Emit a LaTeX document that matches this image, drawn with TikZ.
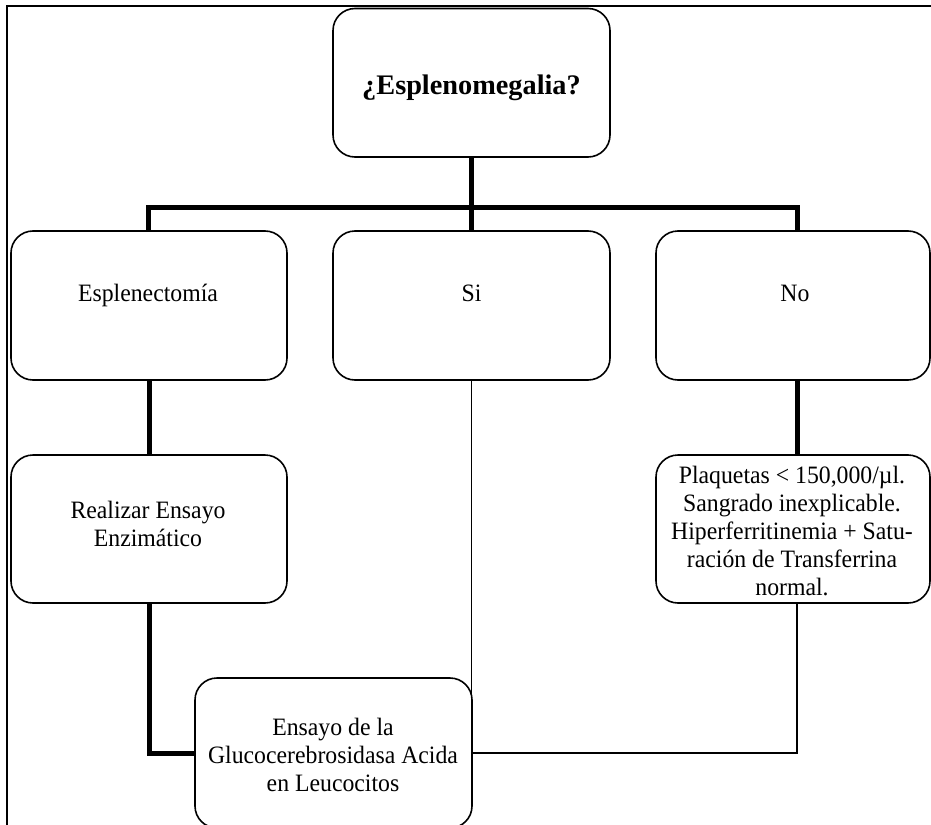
\documentclass[tikz,border=0pt]{standalone}
\usepackage{fontspec}
\setmainfont{Liberation Serif}
\newfontfamily\bodyfont[FakeStretch=0.95]{Liberation Serif}
\usetikzlibrary{calc}
\begin{document}
\begin{tikzpicture}[x=1pt,y=-1pt,
  box/.style={draw, line width=1.6pt, rounded corners=22pt, inner sep=0pt},
  txt/.style={font=\bodyfont\fontsize{25}{28}\selectfont, align=center, inner sep=0pt,
    execute at begin node=\strut, execute at end node=\strut},
  titletxt/.style={font=\fontsize{28.3}{32}\selectfont\bfseries, align=center, inner sep=0pt,
    execute at begin node=\strut},
  heavy/.style={line width=5pt},
  light/.style={line width=1.6pt}]
\useasboundingbox (0,0) rectangle (931,824);
\clip (0,0) rectangle (931,824);
% frame
\draw[line width=2pt] (7,840) -- (7,6) -- (940,6);
% boxes
\node[box, minimum width=277pt, minimum height=148.5pt] (top) at (471.5,82.75) {};
\node[box, minimum width=276pt, minimum height=149pt] (esp) at (149,305.5) {};
\node[box, minimum width=277pt, minimum height=149pt] (si) at (471.5,305.5) {};
\node[box, minimum width=274pt, minimum height=149pt] (no) at (793,305.5) {};
\node[box, minimum width=276pt, minimum height=148pt] (real) at (149,529) {};
\node[box, minimum width=274pt, minimum height=148pt] (plaq) at (793,529) {};
\node[box, minimum width=277pt, minimum height=150pt] (ens) at (333.5,753) {};
% texts
\node[titletxt] (toptxt) at (471.5,88.6) {¿Esplenomegalia?};
\node[txt] (esptxt) at (148,296) {Esplenectomía};
\node[txt] (sitxt) at (471.5,296) {Si};
\node[txt] (notxt) at (795,296) {No};
\node[txt] (realtxt) at (148,528) {Realizar Ensayo\\Enzimático};
\node[txt] (plaqtxt) at (792,535) {Plaquetas < 150,000/µl.\\Sangrado inexplicable.\\Hiperferritinemia + Satu-\\ración de Transferrina\\normal.};
\node[txt] (enstxt) at (333,759) {Ensayo de la\\Glucocerebrosidasa Acida\\en Leucocitos};
% connectors
\coordinate (bar) at (471.5,207);
\draw[heavy] (top.south) -- (bar);
\draw[heavy] ([xshift=-1pt]esp.north) |- (bar) -| ([xshift=4pt]no.north);
\draw[heavy] (bar) -- (si.north);
\draw[heavy] (esp.south) -- (real.north);
\draw[heavy] ([xshift=4pt]no.south) -- ([xshift=4pt]plaq.north);
\draw[light] (si.south) -- (si.south |- ens.east);
\draw[light] ([xshift=4pt]plaq.south) |- (ens.east);
\draw[heavy] (real.south) |- (ens.west);
\end{tikzpicture}
\end{document}
